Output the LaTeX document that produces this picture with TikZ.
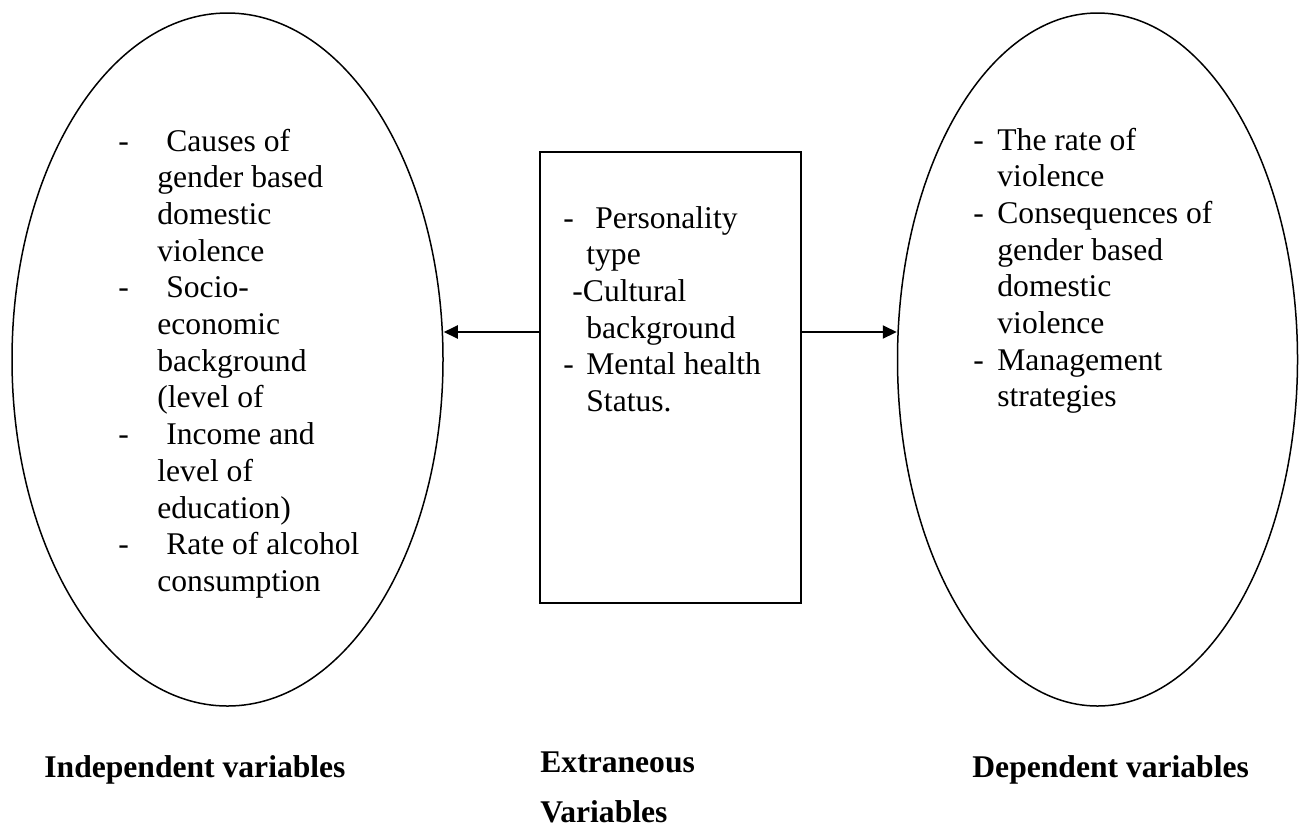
\documentclass[tikz,border=0pt]{standalone}
\usepackage{fontspec}
\setmainfont{Liberation Serif}
\usetikzlibrary{shapes.geometric,arrows.meta}
\tikzset{
  oval/.style={draw, ellipse, line width=0.75pt, inner sep=0pt},
  midbox/.style={draw, rectangle, line width=0.9pt, inner sep=0pt},
  listtext/.style={anchor=base west, inner sep=0pt, font=\fontsize{15.8}{18.35}\selectfont},
  caption/.style={anchor=base west, inner sep=0pt, font=\fontsize{15.8}{18.35}\selectfont\bfseries},
  conn/.style={line width=1pt, -{Triangle[length=7pt,width=6.5pt]}}
}
\begin{document}
\begin{tikzpicture}[x=0.5pt,y=-0.5pt]
\useasboundingbox (0,0) rectangle (1299,832);
% shapes
\node[oval, minimum width=215.5pt, minimum height=346.5pt] (L) at (227.5,359.5) {};
\node[oval, minimum width=200pt, minimum height=346.5pt] (R) at (1097.5,359.5) {};
\node[midbox, minimum width=130.5pt, minimum height=225.5pt] (B) at (670.5,377.5) {};
% texts
\node[listtext] (Ltext) at (118,151) {\begin{tabular}[t]{@{}l@{}}
\makebox[24pt][l]{-}Causes of\\
\hspace*{19.5pt}gender based\\
\hspace*{19.5pt}domestic\\
\hspace*{19.5pt}violence\\
\makebox[24pt][l]{-}Socio-\\
\hspace*{19.5pt}economic\\
\hspace*{19.5pt}background\\
\hspace*{19.5pt}(level of\\
\makebox[24pt][l]{-}Income and\\
\hspace*{19.5pt}level of\\
\hspace*{19.5pt}education)\\
\makebox[24pt][l]{-}Rate of alcohol\\
\hspace*{19.5pt}consumption
\end{tabular}};
\node[listtext] (Btext) at (563,228) {\begin{tabular}[t]{@{}l@{}}
\makebox[16pt][l]{-}Personality\\
\hspace*{11.5pt}type\\
\hspace*{4.5pt}-Cultural\\
\hspace*{11.5pt}background\\
\makebox[11.5pt][l]{-}Mental health\\
\hspace*{11.5pt}Status.
\end{tabular}};
\node[listtext] (Rtext) at (973,150) {\begin{tabular}[t]{@{}l@{}}
\makebox[12pt][l]{-}The rate of\\
\hspace*{12pt}violence\\
\makebox[12pt][l]{-}Consequences of\\
\hspace*{12pt}gender based\\
\hspace*{12pt}domestic\\
\hspace*{12pt}violence\\
\makebox[12pt][l]{-}Management\\
\hspace*{12pt}strategies
\end{tabular}};
% captions
\node[caption] (Lcap) at (44,777) {Independent variables};
\node[caption] (Bcap1) at (540,772) {Extraneous};
\node[caption] (Bcap2) at (540,822) {Variables};
\node[caption] (Rcap) at (972,777) {Dependent variables};
% connectors
\coordinate (ay) at (0,332);
\draw[conn] (B.west |- ay) -- (L.east |- ay);
\draw[conn] (B.east |- ay) -- (R.west |- ay);
\end{tikzpicture}
\end{document}
